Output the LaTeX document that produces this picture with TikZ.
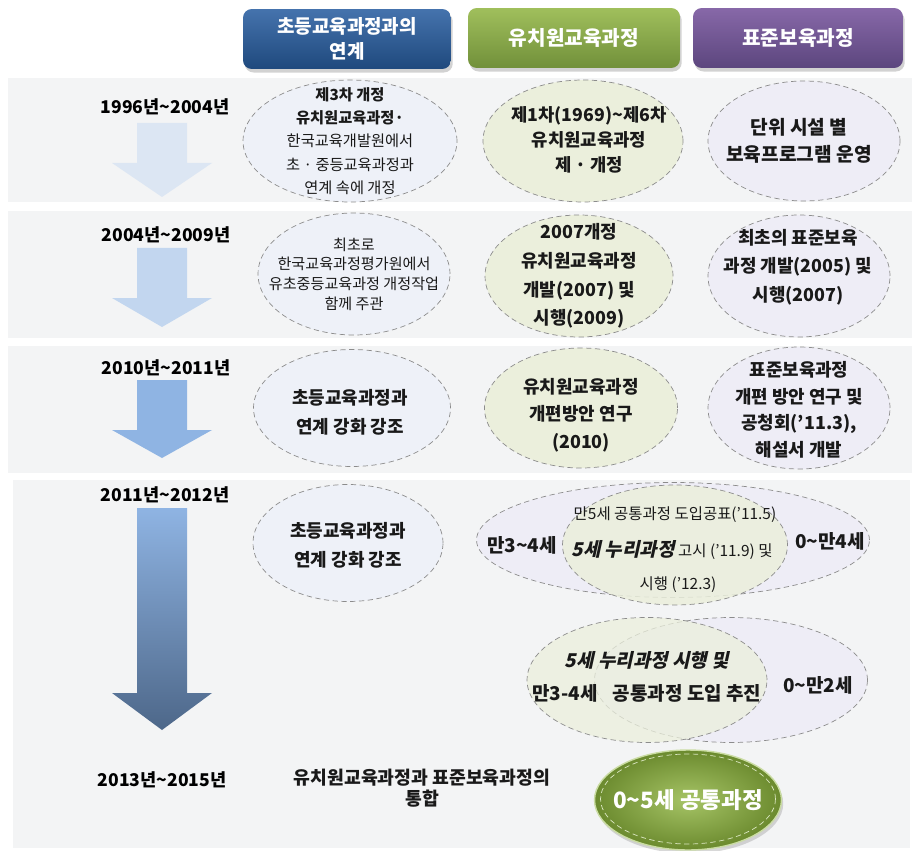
\documentclass[tikz,border=0pt]{standalone}
\usepackage{fontspec}
\setmainfont{Noto Sans CJK KR}
\newfontfamily\slantkr{Noto Sans CJK KR}[FakeSlant=0.22]
\usepackage{tikz}
\usetikzlibrary{shapes.geometric, shadows, positioning}

\definecolor{bandgray}{HTML}{F3F4F5}
\definecolor{bubblue}{HTML}{EEF1F8}
\definecolor{bubgreen}{HTML}{EBEFDC}
\definecolor{bubpurple}{HTML}{EEEDF6}
\definecolor{rimgray}{HTML}{8C8C8C}
\definecolor{arrowA}{HTML}{DCE6F3}
\definecolor{arrowB}{HTML}{C2D6EF}
\definecolor{arrowC}{HTML}{8FB4E3}
\definecolor{arrowD}{HTML}{4D6789}
\definecolor{olivelight}{HTML}{A6C466}
\definecolor{olivedark}{HTML}{6B8A2E}
\definecolor{headblueA}{HTML}{4573AD}
\definecolor{headblueB}{HTML}{1F497D}
\definecolor{headgreenA}{HTML}{A0BF5C}
\definecolor{headgreenB}{HTML}{71903A}
\definecolor{headpurpleA}{HTML}{8768A8}
\definecolor{headpurpleB}{HTML}{5C467E}

\tikzstyle{band} = [fill=bandgray, draw=none]
\tikzstyle{head} = [rectangle, rounded corners=5pt, minimum height=1.2cm, text=white, align=center, drop shadow={opacity=0.35, shadow xshift=1pt, shadow yshift=-2pt}]
\tikzstyle{blob} = [ellipse, draw=rimgray, densely dashed, line width=0.4pt, inner sep=0pt]
\tikzstyle{yearlbl} = [font=\fontsize{10}{12}\selectfont\bfseries]
\tikzstyle{txt} = [align=center, text=black!90]

% down arrow of one period: top of shaft, start of head, tip, fill
\newcommand{\periodarrow}[4]{%
  \fill[#4] (137,#1) -- (187,#1) -- (187,#2) -- (212,#2) -- (162,#3) -- (112,#2) -- (137,#2) -- cycle;}

\begin{document}
\begin{tikzpicture}[x=0.02cm, y=-0.02cm]
\useasboundingbox (0,0) rectangle (916,851);
\fill[white] (0,0) rectangle (916,851);

% period bands
\fill[band] (8,78) rectangle (912,202);
\fill[band] (8,211) rectangle (912,338);
\fill[band] (8,346) rectangle (912,473);
\fill[band] (13,480) rectangle (910,848);

% column heads
\node (hdlink) [head, minimum width=4.16cm, top color=headblueA, bottom color=headblueB, font=\fontsize{10.8}{14}\selectfont\bfseries] at (347,39) {초등교육과정과의\\연계};
\node (hdkinder) [head, minimum width=4.24cm, top color=headgreenA, bottom color=headgreenB, font=\fontsize{11.5}{14}\selectfont\bfseries] at (574,38) {유치원교육과정};
\node (hdnursery) [head, minimum width=4.2cm, top color=headpurpleA, bottom color=headpurpleB, font=\fontsize{11.5}{14}\selectfont\bfseries] at (798,38) {표준보육과정};

% periods and arrows
\node (y1) [yearlbl] at (165,107) {1996년\textasciitilde{}2004년};
\node (y2) [yearlbl] at (166,235) {2004년\textasciitilde{}2009년};
\node (y3) [yearlbl] at (166,368) {2010년\textasciitilde{}2011년};
\node (y4) [yearlbl] at (165,495) {2011년\textasciitilde{}2012년};
\node (y5) [yearlbl] at (162,780) {2013년\textasciitilde{}2015년};

\periodarrow{123}{163}{197}{arrowA}
\periodarrow{248}{298}{327}{arrowB}
\periodarrow{380}{430}{458}{arrowC}
\shade[top color=arrowC, bottom color=arrowD] (137,508) -- (187,508) -- (187,693) -- (212,693) -- (162,730) -- (112,693) -- (137,693) -- cycle;

% link with primary school curriculum
\node (e1) [blob, fill=bubblue, minimum width=4.28cm, minimum height=2.44cm] at (350,141) {};
\node (e1t) [txt, font=\fontsize{8.7}{13.3}\selectfont] at (e1) {\textbf{제3차 개정}\\\textbf{유치원교육과정·}\\한국교육개발원에서\\초 · 중등교육과정과\\연계 속에 개정};
\node (e2) [blob, fill=bubblue, minimum width=3.84cm, minimum height=2.44cm] at (354,274) {};
\node (e2t) [txt, font=\fontsize{8.6}{11.2}\selectfont] at (e2) {최초로\\한국교육과정평가원에서\\유초중등교육과정 개정작업\\함께 주관};
\node (e3) [blob, fill=bubblue, minimum width=3.94cm, minimum height=2.34cm] at (352,408) {};
\node (e3t) [txt, font=\fontsize{10.2}{16.4}\selectfont\bfseries] at (350,412) {초등교육과정과\\연계 강화 강조};
\node (e4) [blob, fill=bubblue, minimum width=3.8cm, minimum height=2.34cm] at (348,543) {};
\node (e4t) [txt, font=\fontsize{10.2}{16.4}\selectfont\bfseries] at (348,545) {초등교육과정과\\연계 강화 강조};

% kindergarten curriculum
\node (g1) [blob, fill=bubgreen, minimum width=4.0cm, minimum height=2.44cm] at (583,141) {};
\node (g1t) [txt, font=\fontsize{10.1}{14.2}\selectfont\bfseries] at (589,140) {제1차(1969)\textasciitilde{}제6차\\유치원교육과정\\제 · 개정};
\node (g2) [blob, fill=bubgreen, minimum width=3.76cm, minimum height=2.44cm] at (579,276) {};
\node (g2t) [txt, font=\fontsize{10.2}{16.3}\selectfont\bfseries] at (579,276) {2007개정\\유치원교육과정\\개발(2007) 및\\시행(2009)};
\node (g3) [blob, fill=bubgreen, minimum width=3.86cm, minimum height=2.4cm] at (581,408) {};
\node (g3t) [txt, font=\fontsize{10.2}{15.6}\selectfont\bfseries] at (581,415) {유치원교육과정\\개편방안 연구\\(2010)};

% standard childcare curriculum
\node (p1) [blob, fill=bubpurple, minimum width=3.84cm, minimum height=2.4cm] at (804,141) {};
\node (p1t) [txt, font=\fontsize{10.9}{15.6}\selectfont\bfseries] at (799,141) {단위 시설 별\\보육프로그램 운영};
\node (p2) [blob, fill=bubpurple, minimum width=3.64cm, minimum height=2.44cm] at (799,276) {};
\node (p2t) [txt, font=\fontsize{10.2}{16.2}\selectfont\bfseries] at (798,267) {최초의 표준보육\\과정 개발(2005) 및\\시행(2007)};
\node (p3) [blob, fill=bubpurple, minimum width=3.64cm, minimum height=2.44cm] at (799,408) {};
\node (p3t) [txt, font=\fontsize{10.2}{15.1}\selectfont\bfseries] at (799,410) {표준보육과정\\개편 방안 연구 및\\공청회('11.3),\\해설서 개발};

% 2011-2012 overlap
\node (o4) [blob, fill=bubpurple, minimum width=7.86cm, minimum height=2.3cm] at (673,540) {};
\node (i4) [blob, fill=bubgreen, fill opacity=0.85, minimum width=4.5cm, minimum height=2.4cm] at (675,545) {};
\node (o4l) [txt, font=\fontsize{10.8}{12}\selectfont\bfseries] at (522,545) {만3\textasciitilde{}4세};
\node (o4r) [txt, font=\fontsize{10.8}{12}\selectfont\bfseries] at (830,541) {0\textasciitilde{}만4세};
\node (i4a) [txt, font=\fontsize{8.8}{10}\selectfont] at (675,515) {만5세 공통과정 도입공표('11.5)};
\node (i4b) [txt, font=\fontsize{8.8}{10}\selectfont] at (672,550) {{\slantkr\fontsize{10.8}{12}\selectfont\bfseries 5세 누리과정} 고시 ('11.9) 및};
\node (i4c) [txt, font=\fontsize{8.8}{10}\selectfont] at (678,585) {시행 ('12.3)};

% following overlap
\node (r5) [blob, fill=bubpurple, minimum width=5.46cm, minimum height=2.5cm] at (731,680) {};
\node (l5) [blob, fill=bubgreen, fill opacity=0.75, minimum width=4.8cm, minimum height=2.5cm] at (647,680) {};
\node (l5a) [txt, font=\slantkr\fontsize{10.8}{12}\selectfont\bfseries] at (647,660) {5세 누리과정 시행 및};
\node (l5b) [txt, font=\fontsize{10.8}{12}\selectfont\bfseries] at (565,693) {만3-4세};
\node (l5c) [txt, font=\fontsize{10.8}{12}\selectfont\bfseries] at (687,693) {공통과정 도입 추진};
\node (r5a) [txt, font=\fontsize{10.8}{12}\selectfont\bfseries] at (818,685) {0\textasciitilde{}만2세};

% integration
\node (unify) [txt, font=\fontsize{10.4}{11.8}\selectfont\bfseries] at (422,788) {유치원교육과정과 표준보육과정의\\통합};
\node (final) [ellipse, minimum width=3.74cm, minimum height=2.0cm, inner color=olivelight, outer color=olivedark, draw=olivelight!60!white, line width=0.8pt, drop shadow={opacity=0.3, shadow xshift=1pt, shadow yshift=-2pt}] at (688,800) {};
\node (finalring) [ellipse, minimum width=3.5cm, minimum height=1.8cm, draw=olivelight!40!white, densely dashed, line width=0.4pt] at (688,799) {};
\node (finalt) [txt, text=white, font=\fontsize{12.8}{14}\selectfont\bfseries] at (final) {0\textasciitilde{}5세 공통과정};

\end{tikzpicture}
\end{document}
